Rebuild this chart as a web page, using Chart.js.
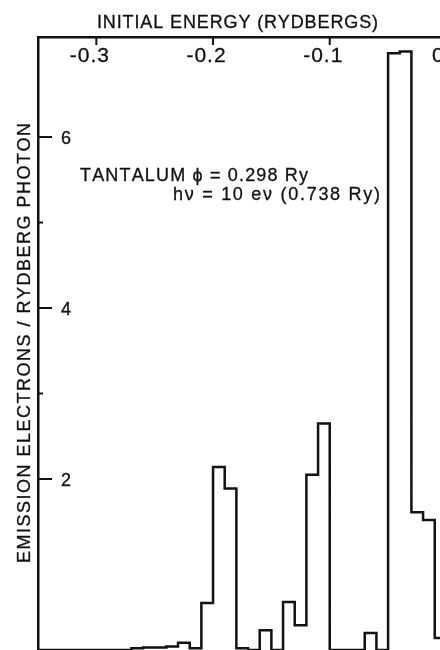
<!DOCTYPE html>
<html>
<head>
<meta charset="utf-8">
<title>Tantalum photoemission</title>
<script src="https://cdn.jsdelivr.net/npm/chart.js@4/dist/chart.umd.min.js"></script>
<style>
  html, body { margin: 0; padding: 0; background: #fff; }
  #wrap { width: 440px; height: 650px; }
</style>
</head>
<body>
<div id="wrap"><canvas id="chart" width="440" height="650"></canvas></div>
<script>
// left edge of each 0.01 Ry bin, and electrons per bin
const binEdges = [
  -0.35, -0.34, -0.33, -0.32, -0.31, -0.30, -0.29, -0.28,
  -0.27, -0.26, -0.25, -0.24, -0.23, -0.22, -0.21, -0.20,
  -0.19, -0.18, -0.17, -0.16, -0.15, -0.14, -0.13, -0.12,
  -0.11, -0.10, -0.09, -0.08, -0.07, -0.06, -0.05, -0.04,
  -0.03, -0.02, -0.01, 0.00
];
const binValues = [
  0, 0, 0, 0, 0, 0, 0, 0,
  0.02, 0.03, 0.03, 0.04, 0.085, 0.02, 0.55, 2.14,
  1.89, 0.02, 0, 0.23, 0, 0.56, 0.29, 2.05,
  2.65, 0, 0, 0, 0.2, 0, 6.98, 7.0,
  1.61, 1.52, 0.14, 0
];

const xTicks = [-0.3, -0.2, -0.1, 0];
const xTickLabels = ['-0.3', '-0.2', '-0.1', '0'];
const yTicks = [2, 4, 6];
const yTickLabels = ['2', '4', '6'];
const yMinorTicks = [3, 5];

const titleText = 'INITIAL ENERGY (RYDBERGS)';
const yTitleText = 'EMISSION ELECTRONS / RYDBERG PHOTON';
const noteLines = ['TANTALUM ϕ = 0.298 Ry', 'hν = 10 eν (0.738 Ry)'];

const ink = '#111';
const family = '"Liberation Sans", Arial, sans-serif';

// fill + thin stroke so the lettering reads a bit heavier, like the pen lettering
function inkText(ctx, s, x, y) {
  ctx.fillText(s, x, y);
  ctx.strokeText(s, x, y);
}

// draws text char by char, stretched to a given width
function spaced(ctx, str, x, y, width) {
  const chars = Array.from(str);
  const widths = chars.map(c => ctx.measureText(c).width);
  const total = widths.reduce((a, b) => a + b, 0);
  const gap = chars.length > 1 ? (width - total) / (chars.length - 1) : 0;
  let cx = x;
  chars.forEach((c, i) => {
    inkText(ctx, c, cx, y);
    cx += widths[i] + gap;
  });
}

const annotate = {
  id: 'annotate',
  afterDraw(chart) {
    const { ctx, chartArea, scales } = chart;
    const x = scales.x, y = scales.y;
    ctx.save();
    ctx.fillStyle = ink;
    ctx.strokeStyle = ink;
    ctx.textAlign = 'left';
    ctx.textBaseline = 'alphabetic';

    // top axis: ticks point down, labels sit inside the frame
    xTicks.forEach((v, i) => {
      const px = x.getPixelForValue(v);
      ctx.lineWidth = 2;
      ctx.beginPath();
      ctx.moveTo(px, chartArea.top);
      ctx.lineTo(px, chartArea.top + 8);
      ctx.stroke();
      ctx.font = '21px ' + family;
      ctx.lineWidth = 0.3;
      const w = ctx.measureText(xTickLabels[i]).width;
      spaced(ctx, xTickLabels[i], px - 7 - (w + 3) / 2, chartArea.top + 25, w + 3);
    });

    // left axis: ticks point right
    yTicks.forEach((v, i) => {
      const py = y.getPixelForValue(v);
      ctx.lineWidth = 2;
      ctx.beginPath();
      ctx.moveTo(chartArea.left, py);
      ctx.lineTo(chartArea.left + 14, py);
      ctx.stroke();
      ctx.font = '18px ' + family;
      ctx.lineWidth = 0.3;
      inkText(ctx, yTickLabels[i], chartArea.left + 23, py + 6.5);
    });
    ctx.lineWidth = 2;
    yMinorTicks.forEach(v => {
      const py = y.getPixelForValue(v);
      ctx.beginPath();
      ctx.moveTo(chartArea.left, py);
      ctx.lineTo(chartArea.left + 5, py);
      ctx.stroke();
    });

    // titles
    ctx.font = '18px ' + family;
    ctx.lineWidth = 0.3;
    spaced(ctx, titleText, 97, 28, 281);

    ctx.save();
    ctx.translate(30, 343);
    ctx.rotate(-Math.PI / 2);
    spaced(ctx, yTitleText, -220, 0, 440);
    ctx.restore();

    // material note
    spaced(ctx, noteLines[0], 80, 181, 228);
    spaced(ctx, noteLines[1], 173, 200, 207);

    ctx.restore();
  }
};

const points = binEdges.map((e, i) => ({ x: e, y: binValues[i] }));

new Chart(document.getElementById('chart'), {
  type: 'line',
  data: {
    datasets: [{
      data: points,
      stepped: 'before',
      borderColor: ink,
      borderWidth: 2.5,
      pointRadius: 0,
      fill: false
    }]
  },
  options: {
    responsive: false,
    animation: false,
    devicePixelRatio: 1,
    layout: { padding: { left: 38, top: 37, right: 0, bottom: 0 } },
    plugins: { legend: { display: false }, tooltip: { enabled: false } },
    scales: {
      x: {
        type: 'linear',
        position: 'top',
        min: -0.35,
        max: -0.0055,
        grid: { display: false, drawTicks: false },
        ticks: { display: false },
        border: { color: ink, width: 2.5 },
        afterFit: s => { s.height = 0; }
      },
      y: {
        min: 0,
        max: 7.17,
        grid: { display: false, drawTicks: false },
        ticks: { display: false },
        border: { color: ink, width: 2.5 },
        afterFit: s => { s.width = 0; }
      }
    }
  },
  plugins: [annotate]
});
</script>
</body>
</html>
